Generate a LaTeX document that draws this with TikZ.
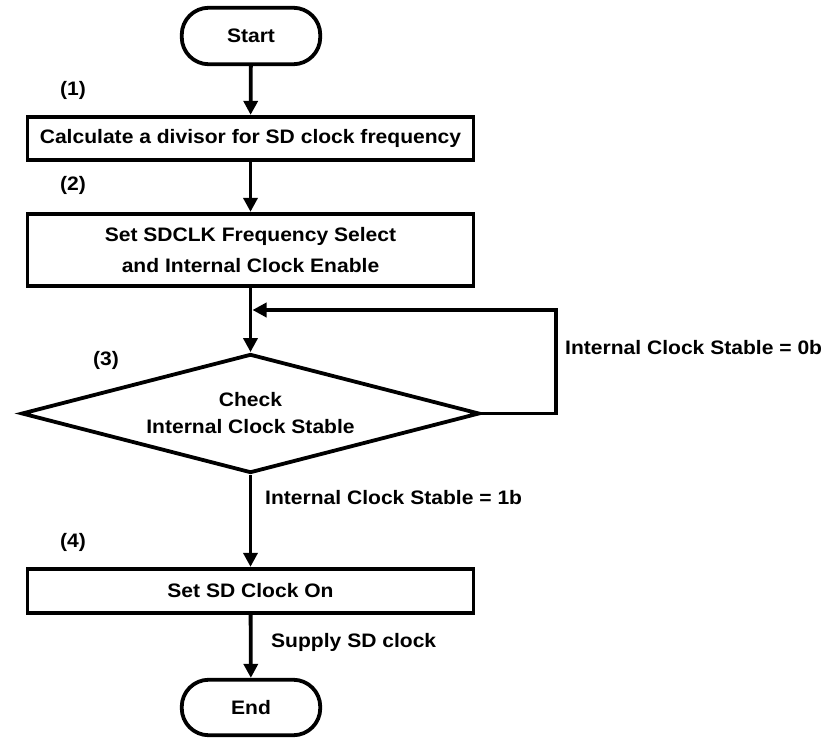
\documentclass[tikz,border=0pt]{standalone}
\usepackage{fontspec}
\setmainfont{Liberation Sans}[FakeStretch=1.08]
\usetikzlibrary{arrows.meta,shapes.geometric}
\begin{document}
\begin{tikzpicture}[x=1pt,y=-1pt,
  every node/.style={font=\fontsize{19.5}{27}\selectfont\bfseries},
  line/.style={line width=3.8pt},
  arr/.style={line width=3.8pt,-{Triangle[width=14pt,length=14pt]}},
  term/.style={draw,line width=3.8pt,rounded corners=27pt,minimum width=138.5pt,inner sep=0pt},
  proc/.style={draw,line width=3.8pt,minimum width=446pt,inner sep=0pt},
  dec/.style={draw,diamond,aspect=3.85,line width=3.8pt,minimum width=458pt,minimum height=119pt,inner sep=0pt,align=center},
  lab/.style={anchor=west,inner sep=0pt},
  num/.style={inner sep=0pt}]
\useasboundingbox (0,0) rectangle (830,738);
\node[term,minimum height=56.5pt] (start) at (251,36) {Start};
\node[proc,minimum height=43.5pt] (b1) at (250.5,138.5) {Calculate a divisor for SD clock frequency};
\node[proc,minimum height=72.5pt,align=center] (b2) at (250.5,250) {Set SDCLK Frequency Select\\[4pt]and Internal Clock Enable};
\node[dec] (d) at (250.5,413.5) {Check\\Internal Clock Stable};
\node[proc,minimum height=44.5pt] (b3) at (250.5,591) {Set SD Clock On};
\node[term,minimum height=55.5pt] (end) at (251,707.5) {End};

\node[num] (n1) at (73,90) {(1)};
\node[num] (n2) at (73,185) {(2)};
\node[num] (n3) at (106,360) {(3)};
\node[num] (n4) at (73,542) {(4)};

\node[lab] (l0) at (565,348) {Internal Clock Stable = 0b};
\node[lab] (l1) at (265,498) {Internal Clock Stable = 1b};
\node[lab] (l2) at (271,642) {Supply SD clock};

\coordinate (loopin) at (252.5,310);
\coordinate (loopcorner) at (556,310);

\draw[arr] (start) -- (b1);
\draw[arr] (b1) -- (b2);
\draw[arr] (b2.south) -- (d.north);
\draw[arr] (d.east) -| (loopcorner) -- (loopin);
\draw[arr] (d.south) -- (b3.north);
\draw[arr] (b3) -- (end);
\end{tikzpicture}
\end{document}
